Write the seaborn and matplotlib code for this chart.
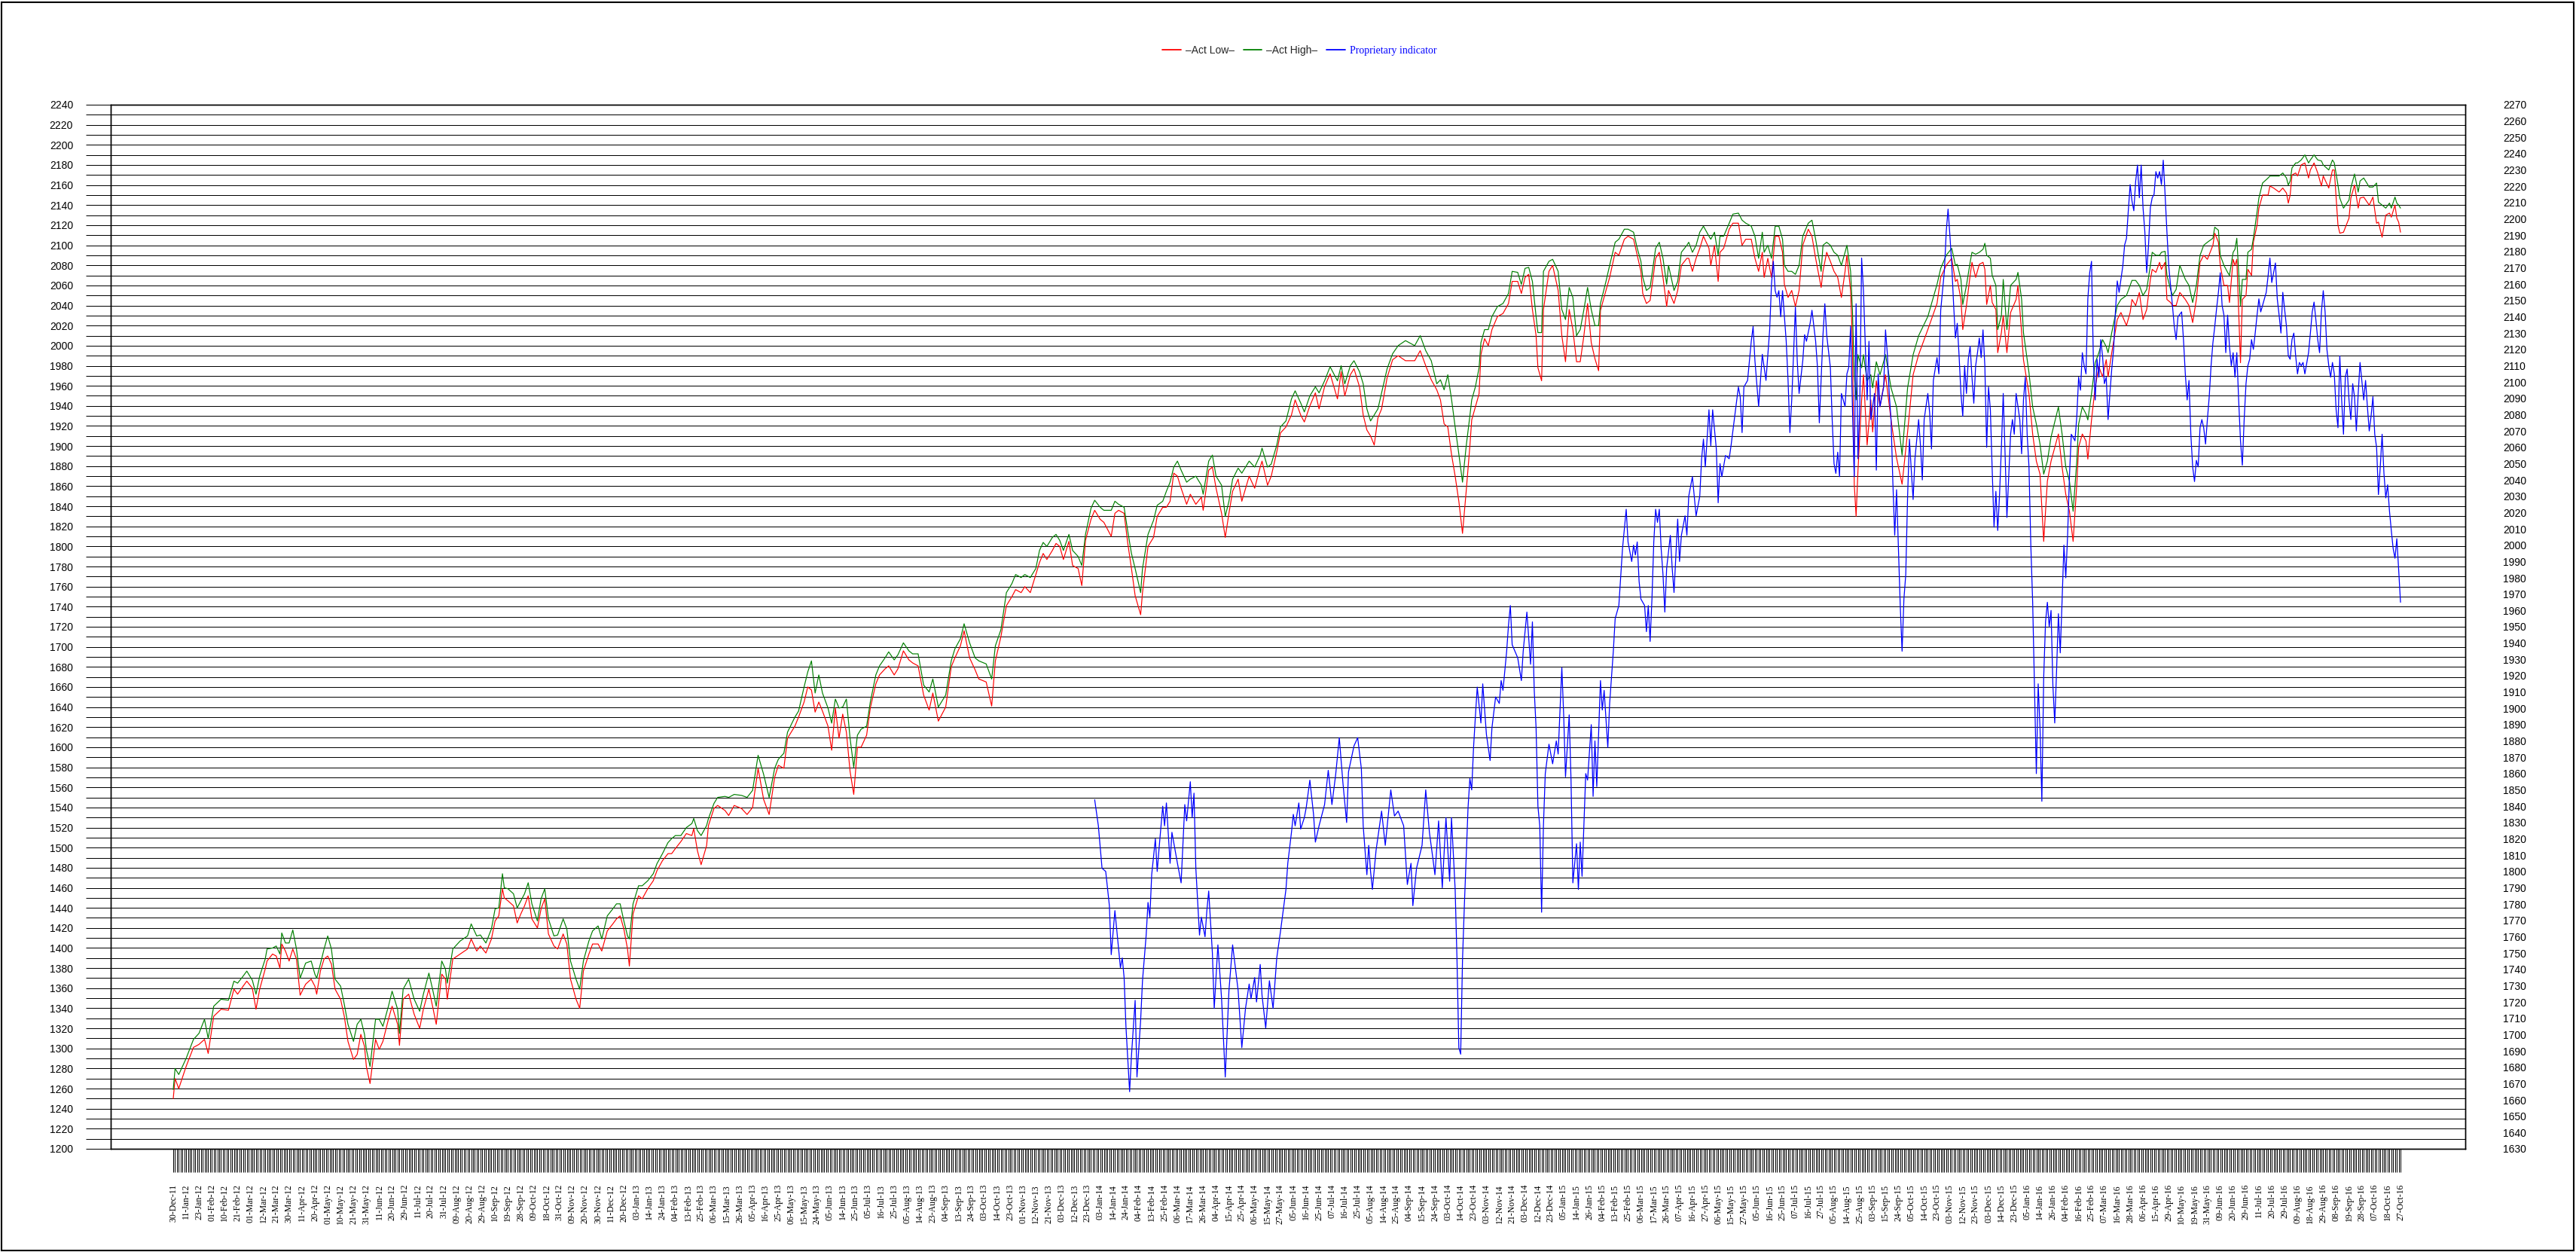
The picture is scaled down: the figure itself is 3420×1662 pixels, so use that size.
import numpy as np
import pandas as pd
import matplotlib
matplotlib.use("Agg")
import matplotlib.pyplot as plt
from matplotlib.lines import Line2D
from matplotlib.patches import Rectangle
from matplotlib.ticker import FixedLocator, MultipleLocator
import seaborn as sns

# ---------------- calendar (x axis: one position per trading day in the data) ----------------
start_day = "2011-12-30"
end_day = "2016-10-27"
market_holidays = [
    "2012-01-02", "2012-01-16", "2012-04-06", "2012-05-28", "2012-07-04", "2012-09-03",
    "2012-10-29", "2012-10-30", "2012-11-22", "2012-12-25",
    "2013-01-01", "2013-01-21", "2013-02-18", "2013-03-29", "2013-05-27", "2013-07-04",
    "2013-09-02", "2013-11-28", "2013-12-25",
    "2014-01-01", "2014-01-20", "2014-02-17", "2014-04-18", "2014-05-26", "2014-07-04",
    "2014-09-01", "2014-11-27", "2014-12-25",
    "2015-01-01", "2015-01-19", "2015-02-16", "2015-04-03", "2015-05-25", "2015-07-03",
    "2015-09-07", "2015-11-26", "2015-12-25",
    "2016-01-01", "2016-01-18", "2016-02-15", "2016-03-25", "2016-05-30", "2016-07-04",
    "2016-09-05",
]
missing_days = ["2012-12-24", "2016-04-20", "2016-04-21", "2016-04-22"]
label_every = 7

# ---------------- Act Low / Act High (left axis) ----------------
hl_day = [
    0, 1, 3, 7, 11, 14, 17, 19, 22, 26,
    30, 33, 35, 38, 40, 43, 45, 47, 50, 51,
    54, 56, 58, 59, 61, 63, 65, 67, 69, 72,
    75, 77, 78, 80, 82, 84, 86, 88, 91, 93,
    95, 98, 100, 102, 104, 105, 107, 110, 112, 114,
    117, 119, 122, 123, 125, 128, 131, 134, 136, 139,
    141, 143, 146, 148, 149, 152, 156, 160, 162, 165,
    167, 170, 173, 175, 177, 179, 180, 182, 185, 187,
    189, 191, 193, 195, 198, 200, 202, 204, 207, 209,
    212, 214, 216, 219, 221, 223, 226, 228, 231, 233,
    236, 239, 241, 243, 245, 247, 248, 250, 253, 255,
    258, 261, 263, 266, 269, 271, 273, 276, 279, 282,
    283, 285, 287, 290, 291, 294, 296, 300, 302, 305,
    309, 312, 315, 318, 321, 324, 327, 329, 332, 334,
    338, 340, 343, 345, 347, 349, 351, 353, 356, 358,
    360, 362, 364, 366, 368, 370, 372, 374, 377, 379,
    382, 384, 387, 389, 392, 394, 397, 400, 402, 405,
    408, 411, 413, 416, 420, 423, 425, 428, 430, 433,
    436, 438, 442, 445, 447, 450, 453, 456, 458, 461,
    463, 466, 469, 471, 473, 475, 478, 480, 482, 484,
    487, 489, 492, 494, 496, 499, 501, 504, 506, 510,
    512, 514, 517, 519, 521, 523, 526, 527, 530, 533,
    535, 538, 540, 542, 544, 546, 548, 551, 553, 556,
    559, 560, 563, 565, 567, 570, 572, 574, 576, 579,
    581, 585, 588, 591, 592, 595, 597, 600, 602, 605,
    608, 610, 613, 615, 618, 621, 623, 626, 629, 633,
    635, 637, 640, 642, 645, 647, 649, 651, 653, 655,
    657, 660, 663, 666, 670, 675, 678, 681, 684, 687,
    689, 691, 693, 695, 697, 699, 701, 703, 705, 706,
    708, 710, 711, 713, 715, 717, 720, 723, 726, 728,
    731, 733, 735, 737, 739, 741, 742, 744, 745, 748,
    750, 753, 755, 757, 759, 761, 763, 765, 767, 769,
    771, 773, 775, 776, 779, 781, 784, 786, 789, 791,
    794, 796, 798, 799, 801, 803, 806, 808, 810, 812,
    813, 816, 818, 820, 823, 824, 826, 828, 830, 832,
    835, 836, 838, 840, 841, 843, 846, 848, 851, 853,
    855, 858, 860, 862, 864, 865, 867, 869, 871, 873,
    875, 876, 878, 880, 882, 884, 886, 889, 891, 893,
    896, 897, 899, 901, 903, 905, 907, 909, 910, 912,
    913, 914, 915, 916, 918, 919, 921, 923, 924, 926,
    928, 931, 934, 937, 940, 943, 946, 949, 954, 959,
    961, 964, 967, 969, 970, 972, 973, 975, 977, 978,
    980, 982, 984, 985, 986, 988, 989, 991, 992, 994,
    995, 997, 999, 1002, 1003, 1005, 1006, 1009, 1011, 1013,
    1015, 1017, 1019, 1021, 1025, 1027, 1029, 1031, 1033, 1035,
    1036, 1038, 1040, 1041, 1043, 1045, 1047, 1049, 1051, 1052,
    1054, 1057, 1059, 1062, 1064, 1065, 1067, 1069, 1071, 1073,
    1075, 1076, 1078, 1080, 1081, 1083, 1084, 1086, 1087, 1089,
    1091, 1094, 1096, 1098, 1100, 1102, 1104, 1106, 1109, 1110,
    1112, 1113, 1115, 1117, 1118, 1120, 1121, 1122, 1124, 1125,
    1127, 1128, 1130, 1131, 1133, 1134, 1136, 1139, 1140, 1142,
    1145, 1147, 1149, 1150, 1151, 1152, 1154, 1155, 1157, 1159,
    1161, 1162, 1164, 1166, 1168, 1169, 1172, 1174, 1175, 1177,
    1178, 1180, 1183, 1184, 1186, 1188, 1189, 1191, 1194, 1196,
    1198, 1199, 1201, 1203, 1205, 1206, 1208, 1209, 1210, 1211,
]
act_low = [
    1250, 1270, 1260, 1282, 1301, 1304, 1309, 1295, 1332, 1339,
    1338, 1359, 1354, 1362, 1367, 1360, 1339, 1359, 1379, 1387,
    1394, 1392, 1380, 1404, 1397, 1387, 1399, 1389, 1353, 1364,
    1369, 1362, 1354, 1377, 1389, 1392, 1384, 1359, 1349, 1332,
    1307, 1289, 1294, 1314, 1302, 1282, 1265, 1309, 1299, 1307,
    1329, 1342, 1324, 1303, 1349, 1354, 1334, 1320, 1339, 1359,
    1342, 1324, 1374, 1369, 1349, 1389, 1394, 1399, 1409, 1397,
    1402, 1395, 1409, 1427, 1432, 1459, 1450, 1447, 1442, 1425,
    1434, 1442, 1452, 1429, 1420, 1439, 1449, 1414, 1402, 1399,
    1414, 1404, 1369, 1349, 1340, 1377, 1394, 1404, 1404, 1397,
    1417, 1424, 1429, 1432, 1419, 1399, 1382, 1434, 1452, 1449,
    1459, 1467, 1477, 1487, 1494, 1494, 1499, 1506, 1514, 1512,
    1519, 1497, 1483, 1502, 1522, 1539, 1542, 1537, 1532, 1542,
    1539, 1533, 1540, 1579, 1548, 1533, 1570, 1582, 1579, 1609,
    1621, 1630, 1645, 1660, 1657, 1635, 1645, 1636, 1621, 1597,
    1639, 1609, 1633, 1615, 1576, 1553, 1600, 1600, 1612, 1639,
    1663, 1672, 1678, 1681, 1672, 1678, 1696, 1687, 1684, 1681,
    1652, 1637, 1654, 1626, 1640, 1680, 1689, 1701, 1716, 1689,
    1677, 1668, 1665, 1641, 1686, 1710, 1741, 1750, 1757, 1754,
    1760, 1754, 1772, 1784, 1793, 1787, 1796, 1803, 1800, 1787,
    1805, 1781, 1778, 1761, 1806, 1827, 1836, 1827, 1824, 1810,
    1833, 1836, 1833, 1803, 1778, 1751, 1732, 1754, 1800, 1809,
    1830, 1839, 1839, 1845, 1873, 1870, 1858, 1842, 1852, 1842,
    1849, 1836, 1876, 1879, 1858, 1833, 1809, 1833, 1855, 1867,
    1845, 1870, 1858, 1879, 1885, 1861, 1870, 1894, 1913, 1919,
    1931, 1946, 1931, 1924, 1940, 1953, 1937, 1959, 1972, 1947,
    1974, 1950, 1971, 1977, 1959, 1931, 1916, 1910, 1901, 1928,
    1937, 1968, 1986, 1990, 1985, 1985, 1995, 1980, 1966, 1956,
    1946, 1922, 1919, 1892, 1870, 1845, 1813, 1855, 1900, 1926,
    1939, 1952, 1991, 2007, 2000, 2016, 2029, 2032, 2042, 2064,
    2064, 2052, 2068, 2071, 2036, 2010, 1978, 1965, 2036, 2074,
    2080, 2055, 2010, 1984, 2036, 2016, 1984, 1984, 2010, 2042,
    2003, 1987, 1975, 2035, 2055, 2068, 2093, 2090, 2106, 2109,
    2106, 2090, 2074, 2052, 2042, 2045, 2087, 2093, 2068, 2039,
    2055, 2042, 2055, 2080, 2087, 2087, 2074, 2087, 2097, 2109,
    2097, 2080, 2100, 2064, 2093, 2097, 2116, 2122, 2122, 2100,
    2106, 2106, 2087, 2074, 2093, 2068, 2087, 2068, 2109, 2109,
    2093, 2061, 2048, 2055, 2039, 2055, 2100, 2116, 2109, 2087,
    2058, 2074, 2093, 2084, 2074, 2068, 2048, 2074, 2090, 2055,
    2003, 1862, 1830, 1875, 1946, 1971, 1901, 1946, 1914, 1965,
    1939, 1971, 1926, 1888, 1862, 1914, 1971, 1991, 2016, 2042,
    2068, 2080, 2087, 2064, 2066, 2046, 2016, 2040, 2070, 2083,
    2068, 2081, 2083, 2076, 2041, 2060, 2043, 2036, 1993, 2013,
    2030, 1993, 2033, 2046, 2060, 2013, 1986, 1952, 1912, 1885,
    1872, 1805, 1865, 1885, 1912, 1879, 1852, 1835, 1805, 1862,
    1899, 1912, 1905, 1887, 1926, 1959, 1979, 1969, 1986, 1969,
    1993, 2026, 2033, 2020, 2033, 2046, 2040, 2053, 2026, 2036,
    2066, 2076, 2073, 2083, 2076, 2083, 2046, 2043, 2040, 2040,
    2053, 2046, 2040, 2023, 2046, 2083, 2090, 2086, 2100, 2112,
    2103, 2080, 2060, 2060, 2043, 2086, 2080, 2086, 1983, 2046,
    2050, 2076, 2070, 2103, 2120, 2137, 2150, 2150, 2159, 2157,
    2153, 2157, 2152, 2142, 2150, 2170, 2172, 2169, 2180, 2182,
    2167, 2175, 2182, 2172, 2159, 2169, 2157, 2175, 2175, 2120,
    2112, 2113, 2127, 2147, 2160, 2137, 2147, 2148, 2140, 2148,
    2122, 2123, 2108, 2130, 2132, 2128, 2140, 2127, 2123, 2113,
]
act_high = [
    1259, 1280, 1274, 1290, 1309, 1315, 1329, 1310, 1342, 1349,
    1348, 1367, 1365, 1372, 1377, 1368, 1354, 1372, 1389, 1399,
    1400, 1402, 1394, 1415, 1405, 1405, 1418, 1399, 1370, 1385,
    1387, 1374, 1370, 1384, 1399, 1412, 1399, 1369, 1362, 1344,
    1324, 1307, 1324, 1329, 1314, 1299, 1282, 1329, 1329, 1322,
    1342, 1357, 1339, 1315, 1359, 1369, 1349, 1337, 1354, 1375,
    1359, 1342, 1387, 1379, 1365, 1399, 1407, 1412, 1424, 1412,
    1413, 1405, 1419, 1439, 1440, 1474, 1460, 1459, 1454, 1440,
    1447, 1454, 1465, 1444, 1427, 1449, 1459, 1429, 1412, 1413,
    1429, 1419, 1387, 1369, 1359, 1387, 1407, 1417, 1422, 1409,
    1432, 1439, 1444, 1444, 1427, 1412, 1409, 1444, 1462, 1462,
    1467, 1474, 1484, 1494, 1505, 1509, 1512, 1512, 1520, 1524,
    1529, 1517, 1512, 1522, 1529, 1544, 1550, 1551, 1550, 1553,
    1552, 1550, 1557, 1592, 1573, 1550, 1579, 1588, 1594, 1615,
    1630, 1636, 1660, 1675, 1686, 1654, 1672, 1654, 1639, 1624,
    1648, 1639, 1640, 1648, 1609, 1580, 1612, 1618, 1621, 1645,
    1672, 1681, 1689, 1695, 1687, 1692, 1704, 1696, 1693, 1693,
    1662, 1655, 1668, 1640, 1652, 1686, 1698, 1708, 1723, 1704,
    1689, 1686, 1683, 1668, 1701, 1717, 1754, 1763, 1772, 1769,
    1772, 1769, 1778, 1796, 1804, 1800, 1809, 1812, 1806, 1796,
    1812, 1796, 1790, 1781, 1812, 1838, 1846, 1839, 1836, 1836,
    1845, 1842, 1839, 1815, 1793, 1778, 1754, 1778, 1812, 1826,
    1841, 1845, 1855, 1864, 1879, 1885, 1876, 1864, 1867, 1870,
    1861, 1852, 1885, 1891, 1870, 1861, 1830, 1845, 1867, 1878,
    1873, 1885, 1879, 1891, 1898, 1879, 1882, 1901, 1919, 1925,
    1947, 1955, 1943, 1934, 1950, 1959, 1953, 1965, 1979, 1965,
    1980, 1962, 1980, 1985, 1974, 1962, 1937, 1925, 1931, 1937,
    1953, 1977, 1992, 2000, 2005, 2000, 2010, 1995, 1985, 1962,
    1966, 1956, 1971, 1947, 1919, 1892, 1864, 1900, 1930, 1946,
    1959, 1978, 2003, 2016, 2016, 2029, 2039, 2042, 2052, 2074,
    2073, 2061, 2077, 2078, 2064, 2029, 2013, 2013, 2074, 2084,
    2086, 2074, 2036, 2026, 2058, 2048, 2010, 2016, 2036, 2058,
    2036, 2020, 2020, 2042, 2064, 2080, 2103, 2106, 2116, 2116,
    2113, 2097, 2084, 2068, 2055, 2058, 2097, 2103, 2087, 2061,
    2080, 2055, 2064, 2093, 2100, 2103, 2093, 2100, 2113, 2119,
    2109, 2106, 2113, 2090, 2109, 2109, 2122, 2131, 2132, 2125,
    2122, 2119, 2109, 2087, 2113, 2093, 2100, 2087, 2119, 2119,
    2106, 2080, 2074, 2074, 2071, 2080, 2109, 2122, 2125, 2106,
    2074, 2100, 2103, 2100, 2093, 2090, 2080, 2093, 2100, 2074,
    2036, 1971, 1946, 1991, 1978, 1991, 1965, 1971, 1958, 1984,
    1971, 1991, 1958, 1939, 1891, 1958, 1991, 2010, 2029, 2061,
    2077, 2090, 2097, 2080, 2081, 2066, 2041, 2060, 2083, 2093,
    2091, 2093, 2096, 2102, 2090, 2087, 2070, 2060, 2016, 2030,
    2066, 2016, 2060, 2066, 2073, 2046, 2013, 1973, 1939, 1922,
    1902, 1872, 1885, 1909, 1939, 1912, 1879, 1865, 1835, 1885,
    1922, 1939, 1932, 1926, 1952, 1983, 1993, 2006, 1999, 1993,
    2013, 2040, 2046, 2050, 2060, 2065, 2065, 2060, 2050, 2056,
    2080, 2093, 2090, 2090, 2093, 2094, 2070, 2056, 2050, 2056,
    2080, 2066, 2060, 2043, 2060, 2090, 2100, 2103, 2107, 2118,
    2115, 2090, 2080, 2073, 2070, 2093, 2096, 2107, 2040, 2066,
    2066, 2093, 2096, 2107, 2133, 2147, 2162, 2167, 2169, 2169,
    2169, 2172, 2167, 2160, 2164, 2177, 2182, 2182, 2185, 2190,
    2182, 2185, 2190, 2185, 2184, 2180, 2175, 2185, 2182, 2160,
    2147, 2137, 2145, 2157, 2171, 2153, 2164, 2167, 2158, 2158,
    2162, 2143, 2140, 2137, 2142, 2137, 2148, 2142, 2140, 2137,
]

# ---------------- Proprietary indicator (right axis) ----------------
ind_day = [
    501, 503, 505, 507, 509, 510, 512, 514, 515, 516,
    517, 518, 520, 521, 523, 524, 526, 527, 529, 530,
    531, 532, 534, 535, 536, 538, 539, 540, 542, 543,
    546, 548, 550, 551, 553, 554, 555, 556, 558, 559,
    561, 562, 563, 565, 566, 568, 570, 572, 574, 576,
    579, 581, 583, 585, 586, 588, 589, 591, 592, 594,
    596, 598, 600, 602, 605, 606, 608, 609, 610, 612,
    613, 615, 616, 618, 620, 621, 623, 626, 628, 630,
    632, 634, 636, 638, 639, 642, 644, 646, 647, 649,
    650, 651, 652, 654, 657, 659, 661, 662, 664, 666,
    669, 671, 673, 674, 676, 679, 681, 683, 685, 686,
    688, 690, 692, 694, 695, 697, 698, 699, 700, 701,
    702, 704, 705, 706, 707, 708, 709, 711, 712, 714,
    716, 717, 719, 721, 722, 723, 725, 726, 727, 728,
    731, 733, 734, 736, 738, 739, 740, 741, 742, 743,
    744, 745, 746, 748, 750, 752, 753, 755, 756, 757,
    759, 760, 761, 763, 764, 765, 766, 767, 768, 769,
    771, 772, 773, 774, 776, 777, 778, 780, 781, 783,
    784, 786, 788, 790, 791, 793, 794, 795, 796, 797,
    798, 800, 801, 802, 803, 804, 805, 806, 807, 808,
    809, 810, 811, 812, 814, 815, 816, 818, 819, 820,
    822, 823, 824, 826, 827, 828, 830, 831, 832, 833,
    835, 836, 837, 839, 840, 841, 842, 844, 846, 847,
    849, 851, 852, 853, 854, 856, 857, 858, 859, 860,
    862, 863, 864, 866, 868, 869, 870, 871, 872, 873,
    874, 875, 877, 878, 879, 880, 881, 882, 883, 884,
    886, 887, 888, 890, 891, 893, 894, 895, 897, 898,
    899, 901, 902, 903, 904, 905, 906, 907, 909, 910,
    911, 912, 913, 914, 915, 916, 917, 918, 919, 921,
    922, 923, 925, 926, 927, 928, 930, 931, 932, 933,
    934, 935, 936, 937, 938, 939, 940, 941, 942, 943,
    944, 945, 946, 947, 949, 950, 951, 952, 954, 955,
    956, 957, 959, 960, 961, 963, 964, 965, 966, 967,
    968, 969, 970, 971, 972, 973, 974, 975, 976, 977,
    978, 979, 980, 981, 982, 983, 984, 985, 986, 987,
    988, 989, 990, 991, 992, 993, 994, 995, 996, 997,
    998, 999, 1000, 1001, 1002, 1004, 1005, 1006, 1007, 1008,
    1009, 1010, 1011, 1012, 1013, 1014, 1015, 1016, 1017, 1018,
    1019, 1020, 1021, 1022, 1023, 1024, 1025, 1026, 1027, 1028,
    1029, 1030, 1031, 1032, 1034, 1035, 1036, 1037, 1038, 1039,
    1040, 1041, 1042, 1043, 1044, 1045, 1046, 1047, 1048, 1049,
    1050, 1051, 1052, 1053, 1054, 1055, 1056, 1057, 1058, 1060,
    1061, 1062, 1063, 1064, 1065, 1066, 1067, 1068, 1069, 1070,
    1071, 1072, 1073, 1074, 1075, 1076, 1077, 1078, 1079, 1080,
    1081, 1082, 1083, 1084, 1085, 1086, 1087, 1088, 1089, 1090,
    1092, 1093, 1094, 1095, 1096, 1097, 1098, 1099, 1100, 1101,
    1102, 1103, 1104, 1105, 1106, 1107, 1108, 1109, 1110, 1111,
    1112, 1113, 1114, 1115, 1116, 1117, 1118, 1119, 1120, 1121,
    1122, 1123, 1124, 1125, 1126, 1127, 1128, 1129, 1130, 1131,
    1132, 1133, 1134, 1135, 1137, 1138, 1139, 1140, 1141, 1143,
    1144, 1145, 1146, 1147, 1149, 1150, 1151, 1152, 1153, 1154,
    1155, 1156, 1157, 1158, 1159, 1161, 1162, 1163, 1164, 1165,
    1166, 1167, 1168, 1169, 1170, 1171, 1172, 1173, 1174, 1175,
    1176, 1177, 1178, 1179, 1180, 1181, 1182, 1183, 1184, 1185,
    1186, 1187, 1188, 1189, 1191, 1192, 1193, 1194, 1195, 1196,
    1197, 1198, 1199, 1200, 1201, 1202, 1203, 1204, 1205, 1206,
    1207, 1208, 1209, 1210, 1211,
]
indicator = [
    1844, 1828, 1802, 1800, 1779, 1749, 1776, 1753, 1741, 1747,
    1735, 1705, 1665, 1687, 1721, 1674, 1709, 1733, 1761, 1781,
    1772, 1798, 1820, 1800, 1814, 1840, 1828, 1842, 1805, 1824,
    1805, 1793, 1841, 1831, 1855, 1833, 1848, 1802, 1761, 1772,
    1760, 1776, 1788, 1750, 1716, 1755, 1722, 1674, 1727, 1755,
    1727, 1692, 1716, 1731, 1722, 1735, 1720, 1743, 1724, 1704,
    1733, 1716, 1747, 1763, 1789, 1805, 1824, 1835, 1828, 1842,
    1826, 1833, 1839, 1856, 1835, 1818, 1828, 1841, 1862, 1841,
    1859, 1882, 1854, 1830, 1861, 1877, 1882, 1863, 1828, 1798,
    1816, 1800, 1789, 1813, 1837, 1816, 1839, 1850, 1834, 1837,
    1828, 1792, 1805, 1779, 1802, 1816, 1850, 1824, 1807, 1798,
    1831, 1790, 1833, 1794, 1833, 1789, 1746, 1692, 1688, 1746,
    1779, 1839, 1857, 1850, 1876, 1895, 1913, 1891, 1915, 1884,
    1868, 1888, 1907, 1903, 1917, 1911, 1935, 1951, 1963, 1939,
    1931, 1917, 1935, 1959, 1927, 1953, 1911, 1888, 1840, 1828,
    1775, 1828, 1860, 1878, 1866, 1880, 1872, 1925, 1896, 1858,
    1896, 1856, 1793, 1817, 1789, 1818, 1797, 1828, 1860, 1856,
    1890, 1846, 1880, 1852, 1917, 1899, 1911, 1876, 1903, 1935,
    1955, 1963, 1998, 2022, 2002, 1990, 2000, 1994, 2002, 1978,
    1967, 1963, 1947, 1963, 1941, 1967, 2002, 2022, 2014, 2022,
    1998, 1982, 1959, 1986, 2006, 1986, 1971, 2016, 1990, 2006,
    2018, 2006, 2030, 2042, 2030, 2018, 2030, 2053, 2065, 2048,
    2083, 2061, 2083, 2059, 2026, 2050, 2042, 2055, 2053, 2061,
    2079, 2097, 2091, 2069, 2097, 2101, 2113, 2125, 2134, 2113,
    2085, 2101, 2117, 2101, 2132, 2160, 2174, 2156, 2152, 2156,
    2140, 2156, 2125, 2101, 2069, 2089, 2117, 2146, 2113, 2093,
    2113, 2129, 2125, 2136, 2144, 2125, 2109, 2075, 2129, 2148,
    2129, 2109, 2077, 2050, 2044, 2057, 2042, 2093, 2085, 2105,
    2109, 2134, 2085, 2042, 2148, 2053, 2085, 2176, 2156, 2089,
    2125, 2077, 2093, 2046, 2105, 2085, 2097, 2132, 2117, 2093,
    2077, 2038, 2006, 2034, 1998, 1963, 1935, 1967, 1982, 2030,
    2065, 2046, 2028, 2053, 2077, 2061, 2040, 2077, 2093, 2081,
    2059, 2101, 2115, 2105, 2144, 2168, 2192, 2206, 2190, 2172,
    2148, 2127, 2136, 2116, 2093, 2079, 2110, 2093, 2114, 2122,
    2103, 2087, 2110, 2118, 2127, 2115, 2132, 2110, 2060, 2097,
    2083, 2046, 2011, 2033, 2009, 2031, 2060, 2093, 2056, 2017,
    2042, 2068, 2077, 2068, 2093, 2077, 2056, 2089, 2103, 2068,
    2048, 2000, 1965, 1913, 1860, 1915, 1888, 1843, 1919, 1953,
    1965, 1950, 1960, 1914, 1891, 1923, 1958, 1934, 1966, 2000,
    1980, 2006, 2042, 2068, 2064, 2079, 2103, 2095, 2118, 2110,
    2105, 2151, 2167, 2174, 2114, 2089, 2114, 2103, 2126, 2116,
    2099, 2103, 2077, 2093, 2108, 2120, 2143, 2162, 2155, 2171,
    2184, 2188, 2205, 2221, 2211, 2205, 2223, 2233, 2213, 2233,
    2207, 2192, 2167, 2184, 2207, 2213, 2215, 2229, 2225, 2229,
    2221, 2236, 2215, 2192, 2171, 2159, 2147, 2134, 2126, 2140,
    2143, 2126, 2105, 2089, 2101, 2068, 2048, 2039, 2052, 2048,
    2072, 2077, 2072, 2062, 2077, 2091, 2110, 2124, 2134, 2145,
    2155, 2167, 2147, 2141, 2118, 2141, 2122, 2110, 2118, 2103,
    2118, 2089, 2064, 2049, 2077, 2099, 2110, 2114, 2126, 2120,
    2130, 2141, 2151, 2143, 2151, 2155, 2165, 2176, 2161, 2173,
    2151, 2141, 2130, 2155, 2134, 2116, 2114, 2126, 2130, 2116,
    2105, 2112, 2110, 2112, 2105, 2118, 2130, 2143, 2149, 2138,
    2126, 2118, 2143, 2156, 2143, 2120, 2110, 2103, 2112, 2105,
    2083, 2072, 2116, 2089, 2068, 2103, 2108, 2089, 2077, 2099,
    2091, 2070, 2093, 2112, 2089, 2101, 2085, 2070, 2079, 2091,
    2068, 2060, 2031, 2048, 2068, 2044, 2029, 2037, 2021, 2009,
    1998, 1992, 2004, 1985, 1965,
]

left_ticks = list(range(1200, 2241, 20))
right_ticks = list(range(1630, 2271, 10))
legend_labels = ["\u2013Act Low\u2013", "\u2013Act High\u2013", "Proprietary indicator"]
series_colors = ["#ff0000", "#008000", "#0000ff"]

# ---------------- styling ----------------
sns.set_theme(style="white")
SANS = ["Liberation Sans Narrow", "Liberation Sans", "DejaVu Sans"]
SERIF = ["Liberation Serif", "DejaVu Serif"]
plt.rcParams["font.family"] = SANS
plt.rcParams["axes.unicode_minus"] = False

hol = pd.to_datetime(market_holidays + missing_days)
days = pd.bdate_range(start_day, end_day)
days = days[~days.isin(hol)]
n = len(days)

hl = pd.DataFrame({"day": hl_day, "low": act_low, "high": act_high})
ind = pd.DataFrame({"day": ind_day, "value": indicator})

fig = plt.figure(figsize=(34.2, 16.62), dpi=100, facecolor="white")
rect = [147 / 3420, 1 - 1525 / 1662, 3126 / 3420, 1386 / 1662]
ax = fig.add_axes(rect)
ax2 = ax.twinx()

sns.lineplot(data=hl, x="day", y="low", ax=ax, color=series_colors[0],
             linewidth=0.85, estimator=None, errorbar=None, sort=True)
sns.lineplot(data=hl, x="day", y="high", ax=ax, color=series_colors[1],
             linewidth=0.85, estimator=None, errorbar=None, sort=True)
sns.lineplot(data=ind, x="day", y="value", ax=ax2, color=series_colors[2],
             linewidth=0.9, estimator=None, errorbar=None, sort=True)

for a in (ax, ax2):
    a.set_xlabel("")
    a.set_ylabel("")
    for sp in a.spines.values():
        sp.set_color("black")
        sp.set_linewidth(1.0)

# x axis
span = (3187 - 230) / (n - 1)
ax.set_xlim(-(230 - 147) / span, (n - 1) + (3273 - 3187) / span)
label_pos = list(range(0, n, label_every))
ax.xaxis.set_major_locator(FixedLocator(label_pos))
ax.xaxis.set_minor_locator(FixedLocator(list(range(n))))
ax.set_xticklabels([days[i].strftime("%d-%b-%y") for i in label_pos],
                   rotation=90, fontfamily=SERIF, fontsize=8.5, color="black")
ax.tick_params(axis="x", which="both", direction="out", length=22.3, width=0.72,
               color="black", pad=11.5, bottom=True)

# left y axis
ax.set_ylim(1200, 2240)
ax.yaxis.set_major_locator(FixedLocator(left_ticks))
ax.yaxis.set_minor_locator(MultipleLocator(10))
ax.tick_params(axis="y", which="both", direction="out", length=23.8, width=0.72,
               color="black", pad=12.2, labelsize=10, left=True, labelcolor="black")
ax.grid(True, axis="y", which="both", color="black", linewidth=0.72, snap=True)
ax.grid(False, axis="x")
ax.set_axisbelow(True)

# right y axis
ax2.set_ylim(1630, 2270)
ax2.yaxis.set_major_locator(FixedLocator(right_ticks))
ax2.tick_params(axis="y", which="both", length=0, pad=36, labelsize=10,
                right=True, labelcolor="black")
ax2.grid(False)

# legend
handles = [Line2D([0], [0], color=c, linewidth=1.3) for c in series_colors]
leg = fig.legend(handles, legend_labels, loc="center", bbox_to_anchor=(0.5045, 0.9597),
                 ncol=3, frameon=False, handlelength=1.75, handletextpad=0.45,
                 columnspacing=0.85, prop={"family": SANS, "size": 10})
texts = leg.get_texts()
texts[2].set_fontfamily(SERIF)
texts[2].set_color("#0000ff")

# outer frame
fig.patches.append(Rectangle((0.0006, 0.0012), 0.9986, 0.9970, transform=fig.transFigure,
                             fill=False, edgecolor="black", linewidth=1.5))

fig.savefig("out.png", dpi=100, facecolor="white")
